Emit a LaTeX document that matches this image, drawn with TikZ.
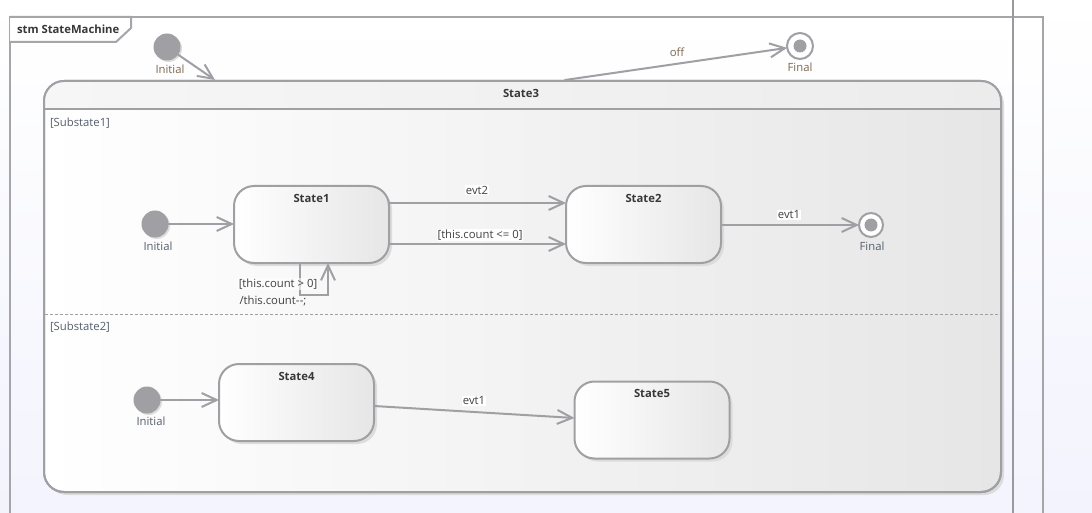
\documentclass[tikz,border=0pt]{standalone}
\usepackage{fontspec}
\setmainfont{Open Sans}
\usetikzlibrary{arrows.meta,calc}
\definecolor{lnc}{HTML}{A0A0A4}
\definecolor{frc}{HTML}{A6A6AA}
\definecolor{vlc}{HTML}{9A9A9E}
\definecolor{bgb}{HTML}{F2F3FD}
\definecolor{shc}{HTML}{DCDCDC}
\definecolor{stR}{HTML}{E6E6E6}
\definecolor{hdL}{HTML}{F6F6F6}
\definecolor{hdR}{HTML}{ECECEC}
\definecolor{txt}{HTML}{404040}
\definecolor{ttl}{HTML}{383838}
\definecolor{slate}{HTML}{545E6C}
\definecolor{brn}{HTML}{7E6650}
\begin{document}
\begin{tikzpicture}[x=1pt,y=-1pt,
  every node/.style={font=\fontsize{11.3}{13}\selectfont, inner sep=1pt, outer sep=0pt},
  tr/.style={draw=lnc, line width=2pt, line cap=round, -{Straight Barb[length=15pt,width=14pt,line width=2pt]}},
  statebox/.style={draw=lnc, line width=2pt, rounded corners=20pt, left color=white, right color=stR,
     minimum width=155pt, minimum height=77pt, outer sep=0pt,
     preaction={fill=shc, transform canvas={xshift=3pt,yshift=-3pt}}},
  title/.style={font=\fontsize{11.3}{13}\selectfont\bfseries, text=ttl},
  initnode/.style={circle, fill=lnc, minimum size=27pt, inner sep=0pt,
     preaction={fill=shc, transform canvas={xshift=1.5pt,yshift=-1.5pt}}},
  finalnode/.style={circle, draw=lnc, line width=2pt, fill=white, minimum size=24pt, inner sep=0pt,
     path picture={\fill[lnc] (path picture bounding box.center) circle (6.5pt);}},
  lbl/.style={text=txt, fill=white},
  lblslate/.style={text=slate},
  lblbrn/.style={text=brn},
  seclbl/.style={text=slate, anchor=west}
]
\useasboundingbox (0,0) rectangle (1092,513);
\clip (0,0) rectangle (1092,513);
\shade[top color=white, bottom color=bgb] (0,0) rectangle (1092,513);
% frame
\shade[top color=white, bottom color=bgb, draw=frc, line width=2pt] (10,17) rectangle (1043,540);
\draw[frc, line width=2pt, fill=white] (10,17) -- (131,17) -- (131,28) -- (116,42) -- (10,42);
\node[anchor=west, font=\fontsize{11.3}{13}\selectfont\bfseries, text=ttl] (frl) at (16,29.5) {stm StateMachine};
\draw[vlc, line width=2pt] (1013,-5) -- (1013,520);

% State3
\node[draw=lnc, line width=2pt, rounded corners=20pt, minimum width=957pt, minimum height=411pt,
  left color=white, right color=stR, outer sep=0pt,
  preaction={fill=shc, transform canvas={xshift=3pt,yshift=-3pt}}] (s3) at (522.5,286.5) {};
\begin{scope}
  \clip (44,81) rectangle (1001,109);
  \shade[left color=hdL, right color=hdR, rounded corners=20pt] (s3.north west) rectangle (s3.south east);
\end{scope}
\draw[lnc, line width=2pt, rounded corners=20pt] (s3.north west) rectangle (s3.south east);
\draw[lnc, line width=2pt] (44,109) -- (1001,109);
\node[title] (s3t) at (521,93) {State3};
\draw[lnc, line width=1pt, dash pattern=on 3pt off 2pt] (45,314) -- (1000,314);
\node[seclbl] (sub1) at (49,123) {[Substate1]};
\node[seclbl] (sub2) at (49,327) {[Substate2]};

% top level
\node[initnode] (i0) at (167,47) {};
\node[lblbrn] (i0l) at (170,69) {Initial};
\coordinate (c1) at (215,80);
\draw[tr] (i0) -- (c1);
\node[finalnode, minimum size=26pt] (f0) at (800,46) {};
\node[lblbrn] (f0l) at (800,67) {Final};
\coordinate (c2) at (565,80);
\draw[tr] (c2) -- (f0);
\node[lblbrn] (offl) at (677,52) {off};

% Substate1
\node[initnode] (i1) at (155,224) {};
\node[lblslate] (i1l) at (158,246) {Initial};
\node[statebox] (s1) at (311.5,224.5) {};
\node[title] at ($(s1.north)+(0,12)$) {State1};
\node[statebox] (s2) at (643.5,224.5) {};
\node[title] at ($(s2.north)+(0,12)$) {State2};
\node[finalnode] (f1) at (871,225) {};
\node[lblslate] (f1l) at (872,246) {Final};
\draw[tr] (i1) -- (s1.west |- i1);
\draw[tr] ($(s1.north east)+(0,17)$) -- ($(s2.north west)+(0,17)$);
\node[lbl] at (477,190) {evt2};
\draw[tr] ($(s1.south east)+(0,-19)$) -- ($(s2.south west)+(0,-19)$);
\node[lbl] at (480,235) {[this.count <= 0]};
\draw[tr] (s2.east |- f1) -- (f1);
\node[lbl] at (789,215) {evt1};
\draw[tr] ($(s1.south west)+(66,0)$) -- ++(0,32) -| ($(s1.south west)+(94,0)$);
\node[text=txt, fill=white, fill opacity=0.6, text opacity=1] at (278,284) {[this.count > 0]};
\node[text=txt] at (273,301) {/this.count\mbox{-}\kern0.3pt\mbox{-};};

% Substate2
\node[initnode] (i2) at (147,400) {};
\node[lblslate] (i2l) at (151,421) {Initial};
\node[statebox] (s4) at (296.5,402.5) {};
\node[title] at ($(s4.north)+(0,12)$) {State4};
\node[statebox] (s5) at (652,420) {};
\node[title] at ($(s5.north)+(0,12)$) {State5};
\draw[tr] (i2) -- (s4.west |- i2);
\draw[tr] ($(s4.east)+(0,3.5)$) -- ($(s5.west)+(0,-2)$);
\node[lbl] at (474,401) {evt1};
\end{tikzpicture}
\end{document}
